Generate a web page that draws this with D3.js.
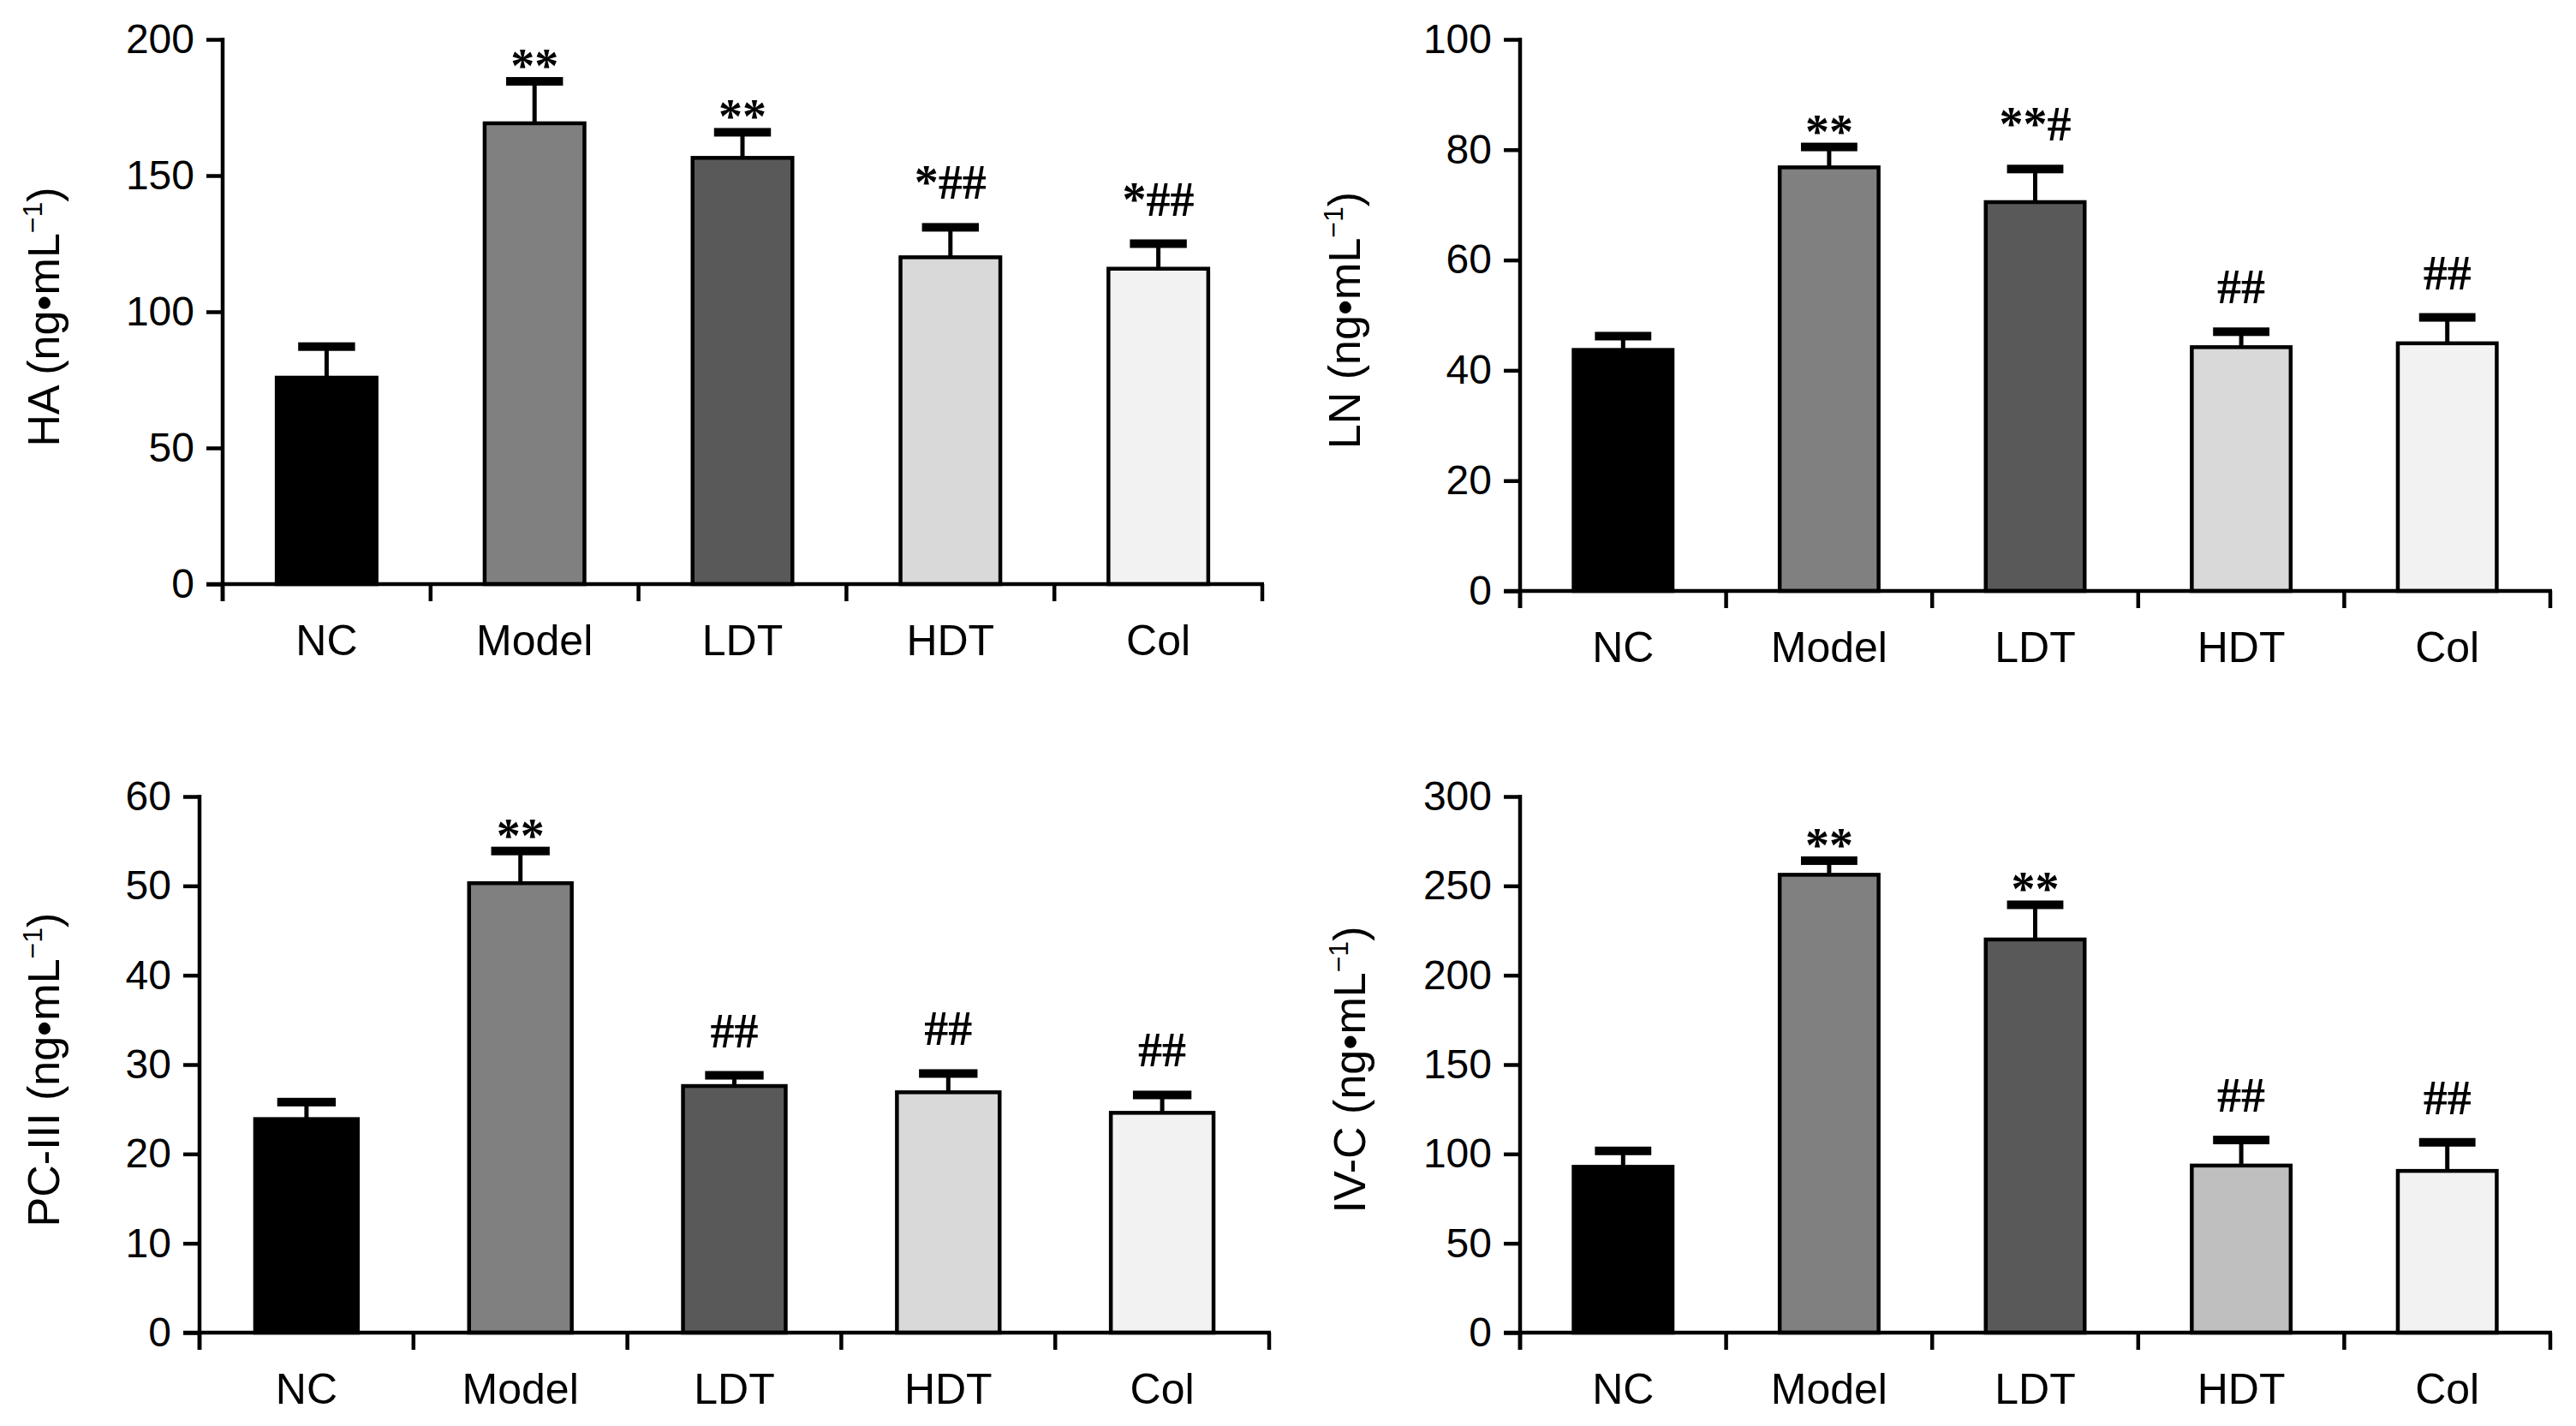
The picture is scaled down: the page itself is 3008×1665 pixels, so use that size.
<!DOCTYPE html>
<html>
<head>
<meta charset="utf-8">
<script src="https://cdn.jsdelivr.net/npm/d3@7"></script>
<style>
  body { margin: 0; background: #fff; }
  svg { display: block; }
</style>
</head>
<body>
<svg id="chart" width="3008" height="1665"></svg>
<script>
// groups on the x axis
var groups = ["NC", "Model", "LDT", "HDT", "Col"];

// HA (ng/mL)
var haMean = [75.8, 169.2, 156.5, 120.0, 115.8];
var haErr  = [11.4, 15.4, 9.4, 11.0, 9.2];
var haSig  = ["", "**", "**", "*##", "*##"];
var haTicks = [0, 50, 100, 150, 200];

// LN (ng/mL)
var lnMean = [43.7, 76.8, 70.5, 44.2, 44.9];
var lnErr  = [2.5, 3.7, 6.0, 2.8, 4.7];
var lnSig  = ["", "**", "**#", "##", "##"];
var lnTicks = [0, 20, 40, 60, 80, 100];

// PC-III (ng/mL)
var pcMean = [23.9, 50.3, 27.6, 26.9, 24.6];
var pcErr  = [1.9, 3.6, 1.2, 2.1, 2.0];
var pcSig  = ["", "**", "##", "##", "##"];
var pcTicks = [0, 10, 20, 30, 40, 50, 60];

// IV-C (ng/mL)
var ivMean = [92.8, 256.2, 220.0, 93.5, 90.5];
var ivErr  = [8.9, 7.9, 19.4, 14.3, 16.0];
var ivSig  = ["", "**", "**", "##", "##"];
var ivTicks = [0, 50, 100, 150, 200, 250, 300];

var fillsA = ["#000000", "#808080", "#595959", "#d9d9d9", "#f2f2f2"];
var fillsB = ["#000000", "#808080", "#595959", "#bfbfbf", "#f2f2f2"];

var svg = d3.select("#chart");

// panel boxes in page pixels
var panels = [
  {name: "HA",     mean: haMean, err: haErr, sig: haSig, ticks: haTicks, fills: fillsA,
   x0: 260,  x1: 1474, top: 46,  zero: 682,  labelX: 69},
  {name: "LN",     mean: lnMean, err: lnErr, sig: lnSig, ticks: lnTicks, fills: fillsA,
   x0: 1775, x1: 2978, top: 46,  zero: 690,  labelX: 1588},
  {name: "PC-III", mean: pcMean, err: pcErr, sig: pcSig, ticks: pcTicks, fills: fillsA,
   x0: 233,  x1: 1482, top: 930, zero: 1556, labelX: 69},
  {name: "IV-C",   mean: ivMean, err: ivErr, sig: ivSig, ticks: ivTicks, fills: fillsB,
   x0: 1775, x1: 2978, top: 930, zero: 1556, labelX: 1594}
];

panels.forEach(drawPanel);

function drawPanel(p) {
  var g = svg.append("g");
  var rows = groups.map(function(k, i) {
    return {group: k, mean: p.mean[i], err: p.err[i], sig: p.sig[i], fill: p.fills[i]};
  });

  var x = d3.scaleBand().domain(groups).range([p.x0, p.x1]).padding(0);
  var edge = d3.scaleLinear().domain([0, groups.length]).range([p.x0, p.x1]);
  var y = d3.scaleLinear().domain([0, d3.max(p.ticks)]).range([p.zero, p.top]);

  var barW = x.bandwidth() * 0.48;
  var capW = barW * 0.57;

  // bars
  g.append("g").selectAll("rect")
    .data(rows)
    .enter().append("rect")
      .attr("x", function(d) { return x(d.group) + (x.bandwidth() - barW) / 2; })
      .attr("y", function(d) { return y(d.mean); })
      .attr("width", barW)
      .attr("height", function(d) { return y(0) - y(d.mean); })
      .attr("fill", function(d) { return d.fill; })
      .attr("stroke", "#000")
      .attr("stroke-width", 4.5);

  // error bars (upper only)
  var eb = g.append("g").selectAll("g")
    .data(rows)
    .enter().append("g");
  eb.append("line")
    .attr("x1", function(d) { return x(d.group) + x.bandwidth() / 2; })
    .attr("x2", function(d) { return x(d.group) + x.bandwidth() / 2; })
    .attr("y1", function(d) { return y(d.mean); })
    .attr("y2", function(d) { return y(d.mean + d.err); })
    .attr("stroke", "#000")
    .attr("stroke-width", 5);
  eb.append("rect")
    .attr("x", function(d) { return x(d.group) + (x.bandwidth() - capW) / 2; })
    .attr("y", function(d) { return y(d.mean + d.err) - 5; })
    .attr("width", capW)
    .attr("height", 10)
    .attr("fill", "#000");

  // significance marks
  g.append("g").selectAll("text")
    .data(rows.filter(function(d) { return d.sig !== ""; }))
    .enter().append("text")
      .attr("x", function(d) { return x(d.group) + x.bandwidth() / 2; })
      .attr("y", function(d) {
        var capTop = y(d.mean + d.err) - 5;
        return d.sig.indexOf("#") >= 0 ? capTop - 28 : capTop + 6;
      })
      .attr("text-anchor", "middle")
      .attr("font-family", "'Liberation Serif', 'Times New Roman', serif")
      .attr("font-weight", "bold")
      .attr("font-size", "56px")
      .text(function(d) { return d.sig; });

  // y axis
  var yAxis = g.append("g")
    .attr("transform", "translate(" + p.x0 + ",0)")
    .call(d3.axisLeft(y).tickValues(p.ticks).tickSize(19).tickPadding(14).tickSizeOuter(0));
  yAxis.select(".domain").remove();
  yAxis.selectAll(".tick line").attr("stroke-width", 4.5);
  yAxis.selectAll("text")
    .attr("font-family", "'Liberation Sans', Arial, sans-serif")
    .attr("font-size", "48px")
    .attr("fill", "#000");
  g.append("line")
    .attr("x1", p.x0).attr("x2", p.x0)
    .attr("y1", p.top - 2).attr("y2", p.zero + 20)
    .attr("stroke", "#000").attr("stroke-width", 4.5);

  // x axis: line, boundary ticks, group names
  g.append("line")
    .attr("x1", p.x0 - 19).attr("x2", p.x1 + 2)
    .attr("y1", p.zero).attr("y2", p.zero)
    .attr("stroke", "#000").attr("stroke-width", 4.5);
  g.append("g").selectAll("line")
    .data(d3.range(groups.length + 1))
    .enter().append("line")
      .attr("x1", function(d) { return edge(d); })
      .attr("x2", function(d) { return edge(d); })
      .attr("y1", p.zero)
      .attr("y2", p.zero + 20)
      .attr("stroke", "#000")
      .attr("stroke-width", 4.5);
  g.append("g").selectAll("text")
    .data(groups)
    .enter().append("text")
      .attr("x", function(d) { return x(d) + x.bandwidth() / 2; })
      .attr("y", p.zero + 83)
      .attr("text-anchor", "middle")
      .attr("font-family", "'Liberation Sans', Arial, sans-serif")
      .attr("font-size", "50px")
      .text(function(d) { return d; });

  // y title
  var cy = (p.top + p.zero) / 2 + 6;
  var t = g.append("text")
    .attr("transform", "translate(" + p.labelX + "," + cy + ") rotate(-90)")
    .attr("text-anchor", "middle")
    .attr("font-family", "'Liberation Sans', Arial, sans-serif")
    .attr("font-size", "52px");
  t.append("tspan").text(p.name + " (ng\u2022mL");
  t.append("tspan").attr("font-size", "32px").attr("dy", -20).text("\u22121");
  t.append("tspan").attr("dy", 20).text(")");
}
</script>
</body>
</html>
